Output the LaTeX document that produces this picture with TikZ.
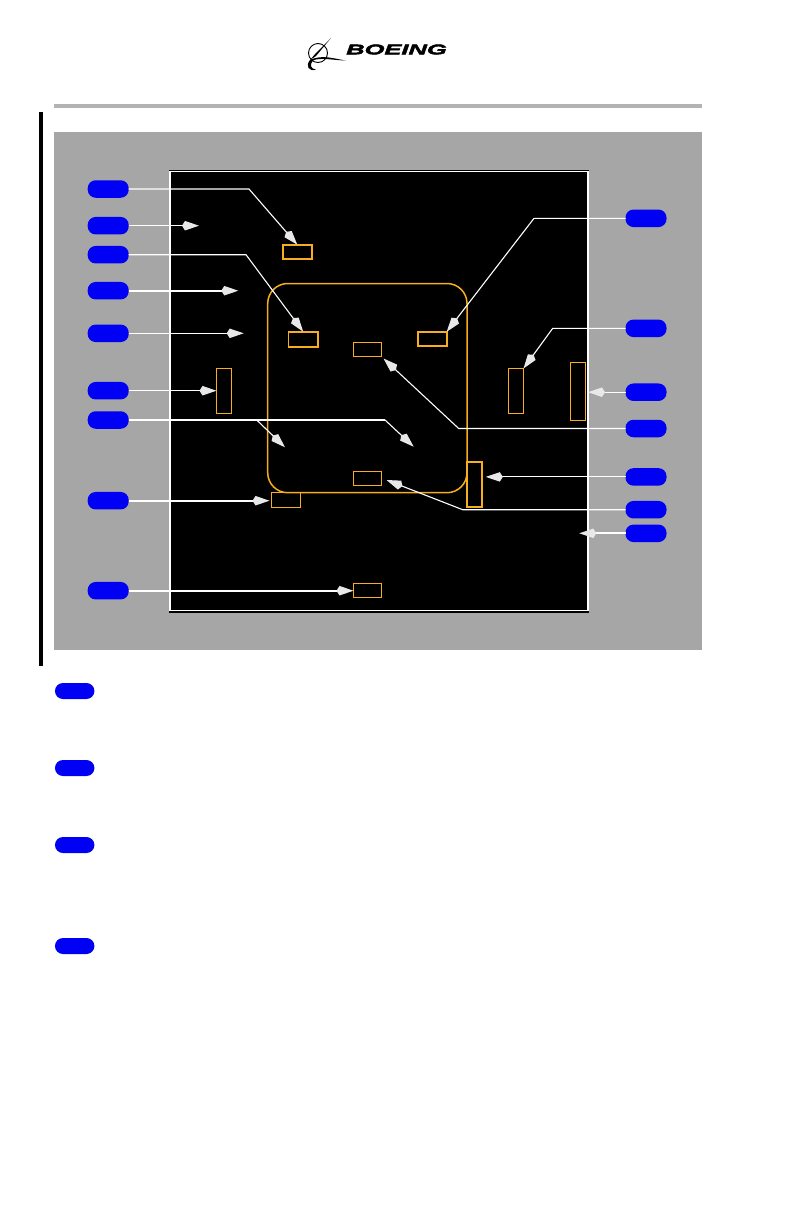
\documentclass[tikz,border=0pt]{standalone}
\usepackage{fontspec}
\usepackage{xcolor}
\usepackage{tikz}
\usetikzlibrary{arrows.meta,calc,positioning}
\newfontfamily\logofont[FakeStretch=1.82,FakeBold=3.2]{Liberation Sans}
\definecolor{panelgray}{HTML}{A6A6A6}
\definecolor{rulegray}{HTML}{B3B3B3}
\definecolor{pillblue}{HTML}{0000F5}
\definecolor{zoneorange}{HTML}{F7AE1E}
\definecolor{tipgray}{HTML}{E8E8E8}
\tikzset{
  pill/.style={fill=pillblue,draw=none,rounded corners=8pt,minimum width=41pt,minimum height=17.5pt,inner sep=0pt,outer sep=0pt},
  notepill/.style={pill,minimum width=39.5pt,minimum height=16pt},
  zonebox/.style={draw=zoneorange,line width=1pt,inner sep=0pt,outer sep=0pt},
  zoneboxthick/.style={zonebox,line width=1.8pt},
  leader/.style={white,line width=1.1pt,-{Kite[length=17pt,width=9.5pt,inset=3pt,color=tipgray]}},
  leaderthick/.style={leader,line width=1.8pt},
  plainleader/.style={white,line width=1.1pt}
}
\begin{document}
\begin{tikzpicture}[x=1pt,y=-1pt]
\useasboundingbox (0,0) rectangle (792,1224);
% page furniture
\fill[rulegray] (54,104) rectangle (702,108);
\fill[black] (39,112) rectangle (43,666);
\fill[panelgray] (54,132) rectangle (702,650);
% screen
\fill[black] (168.5,170) rectangle (589,612.5);
\draw[white,line width=1.1pt] (170,171.5) rectangle (588,610.5);
\draw[zoneorange,line width=1.5pt,rounded corners=20pt] (267.7,283.5) rectangle (467,492.7);
% logo
\draw[black,line width=0.9pt] (318,53) circle (9.5);
\fill[black] (331,38) -- (316,53) -- (310,60) -- (316,56) -- cycle;
\fill[black] (310,60) .. controls (305,66) and (309,72) .. (316,69.5) .. controls (311,69) and (309,65) .. (313,60.5) .. controls (320,57) and (335,60.5) .. (346,60.5) .. controls (335,59) and (322,54) .. (310,60);
\node[font=\logofont\bfseries\itshape\fontsize{14}{15}\selectfont,inner sep=0pt] (logo) at (396.5,49.5) {BOEING};
% zones
\foreach \name/\cx/\cy/\w/\h in {zoneD/367.5/349.5/28/14,zoneE/367.5/478.5/28/14,zoneF/286/500/29/15,zoneG/367.5/590.5/28/14,zoneC/224/391/15/45,zoneI/516/391/15/45,zoneJ/578/391.5/15/58}
  \node[zonebox,minimum width=\w pt,minimum height=\h pt] (\name) at (\cx,\cy) {};
\foreach \name/\cx/\cy/\w/\h in {zoneA/297.3/252/29.4/14.6,zoneB/303.2/339.2/29.4/15,zoneH/432.5/339/28.4/14.6,zoneK/474.5/484.5/15.6/45.6}
  \node[zoneboxthick,minimum width=\w pt,minimum height=\h pt] (\name) at (\cx,\cy) {};
% callouts
\foreach \name/\y in {pillA/189,pillB/225.7,pillC/254.7,pillD/290.7,pillE/333.3,pillF/390.7,pillG/420,pillH/500.7,pillI/590.7}
  \node[pill] (\name) at (108.2,\y) {};
\foreach \name/\y in {pillJ/218.3,pillK/328.3,pillL/392.2,pillM/428.5,pillN/476.9,pillO/509.7,pillP/533.3}
  \node[pill] (\name) at (646,\y) {};
\foreach \name/\y in {noteA/691,noteB/768,noteC/845,noteD/946}
  \node[notepill] (\name) at (74.7,\y) {};
% free ends and bends
\coordinate (endB) at (199,225.7);
\coordinate (endD) at (238.3,290.7);
\coordinate (endE) at (243.7,333.3);
\coordinate (endP) at (579.3,533.3);
\coordinate (endG1) at (285,447.3);
\coordinate (endG2) at (413.7,446.7);
\coordinate (bendG1) at (256.7,420);
\coordinate (bendG2) at (385,420);
% left leaders
\draw[leader] (pillA.east) -- (249,189) -- (zoneA.north);
\draw[leader] (pillB.east) -- (endB);
\draw[leader] (pillC.east) -- (246,254.7) -- (zoneB.north);
\draw[leaderthick] (pillD.east) -- (endD);
\draw[leader] (pillE.east) -- (endE);
\draw[leader] (pillF.east) -- (zoneC.west |- pillF);
\draw[plainleader] (pillG.east) -- (bendG1) -- (bendG2);
\draw[leader] (bendG1) -- (endG1);
\draw[leader] (bendG2) -- (endG2);
\draw[leaderthick] (pillH.east) -- ($(zoneF.west |- pillH)+(-2,0)$);
\draw[leaderthick] (pillI.east) -- (zoneG.west |- pillI);
% right leaders
\draw[leader] (pillJ.west) -- (534,218.3) -- (zoneH.north east);
\draw[leader] (pillK.west) -- (552.7,328.3) -- (zoneI.north east);
\draw[leader] (pillL.west) -- ($(zoneJ.east |- pillL)+(2.5,0)$);
\draw[leader] (pillM.west) -- (458.7,428.5) -- ($(zoneD.south east)+(2,2)$);
\draw[leader] (pillN.west) -- ($(zoneK.east |- pillN)+(3.5,0)$);
\draw[leader] (pillO.west) -- (462.7,509.7) -- ($(zoneE.east)+(5,1.5)$);
\draw[leaderthick] (pillP.west) -- (endP);
\end{tikzpicture}
\end{document}
